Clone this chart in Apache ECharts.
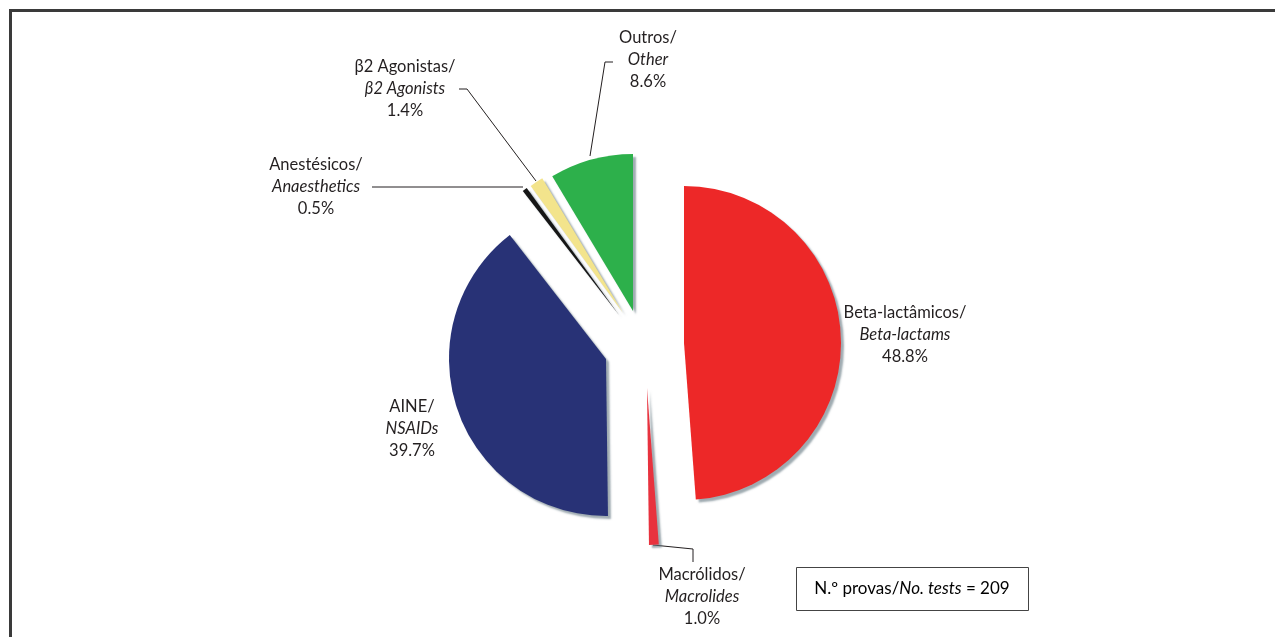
<!DOCTYPE html>
<html>
<head>
<meta charset="utf-8">
<script src="https://cdn.jsdelivr.net/npm/echarts@6/dist/echarts.min.js"></script>
<style>
  html, body { margin: 0; background: #fff; }
  #chart { width: 1275px; height: 637px; }
</style>
</head>
<body>
<div id="chart"></div>
<script>
// data
var namesPt = ['Beta-lactâmicos/', 'Macrólidos/', 'AINE/', 'Anestésicos/', 'β2 Agonistas/', 'Outros/'];
var namesEn = ['Beta-lactams', 'Macrolides', 'NSAIDs', 'Anaesthetics', 'β2 Agonists', 'Other'];
var percents = [48.8, 1.0, 39.7, 0.5, 1.4, 8.6];
var totalTests = 209;

var colors = ['#ed2828', '#e8323e', '#283276', '#161616', '#f3e48c', '#2db04b'];
// exploded pie: every slice gets its own centre
var centers = [[684, 343], [647, 388], [606, 359], [619, 315], [623, 313], [633, 311]];
var labelPos = [[905, 335], [702, 597], [412, 429], [316, 187], [405, 89], [648, 60]];
var linePts = [
  null,
  [[653, 545], [693, 549], [693, 562]],
  null,
  [[523, 187], [450, 187], [372, 187]],
  [[536, 181], [467, 89], [459, 89]],
  [[590, 156], [605, 62], [613, 62]]
];

var font = 'Lato, "DejaVu Sans", sans-serif';
var rich = {
  a: { fontSize: 16.5, lineHeight: 22, color: '#231f20', fontFamily: font },
  b: { fontSize: 16.5, lineHeight: 22, color: '#231f20', fontFamily: font, fontStyle: 'italic' }
};

var chart = echarts.init(document.getElementById('chart'));

function sliceSeries(i) {
  return {
    type: 'pie',
    center: centers[i],
    radius: 157,
    startAngle: 90,
    clockwise: true,
    avoidLabelOverlap: false,
    silent: true,
    animation: false,
    label: {
      formatter: function () {
        return '{a|' + namesPt[i] + '}\n{b|' + namesEn[i] + '}\n{a|' + percents[i].toFixed(1) + '%}';
      },
      rich: rich
    },
    labelLine: {
      lineStyle: { color: '#231f20', width: 1 }
    },
    labelLayout: function (p) {
      if (p.dataIndex !== i) return {};
      var r = {
        x: labelPos[i][0],
        y: labelPos[i][1],
        align: 'center',
        verticalAlign: 'middle'
      };
      if (linePts[i]) r.labelLinePoints = linePts[i];
      return r;
    },
    data: percents.map(function (v, j) {
      var on = j === i;
      return {
        name: namesEn[j],
        value: v,
        itemStyle: on ? {
          color: colors[j],
          shadowColor: 'rgba(95,115,125,0.6)',
          shadowOffsetX: 3,
          shadowOffsetY: 3,
          shadowBlur: 2
        } : { color: 'rgba(0,0,0,0)' },
        label: { show: on },
        labelLine: { show: on && !!linePts[j] }
      };
    })
  };
}

chart.setOption({
  backgroundColor: '#fff',
  series: percents.map(function (v, i) { return sliceSeries(i); }),
  graphic: [
    {
      type: 'rect',
      shape: { x: 10.5, y: 10.5, width: 1300, height: 700 },
      style: { fill: 'none', stroke: '#3a3a3a', lineWidth: 3 }
    },
    {
      type: 'rect',
      shape: { x: 796.5, y: 567.5, width: 232, height: 43 },
      style: { fill: '#fff', stroke: '#444', lineWidth: 1 }
    },
    {
      type: 'text',
      x: 912,
      y: 589,
      style: {
        text: '{a|N.º provas/}{b|No. tests}{a| = ' + totalTests + '}',
        rich: {
          a: { fontSize: 17, color: '#231f20', fontFamily: font },
          b: { fontSize: 17, color: '#231f20', fontFamily: font, fontStyle: 'italic' }
        },
        align: 'center',
        verticalAlign: 'middle'
      }
    }
  ]
});
</script>
</body>
</html>
